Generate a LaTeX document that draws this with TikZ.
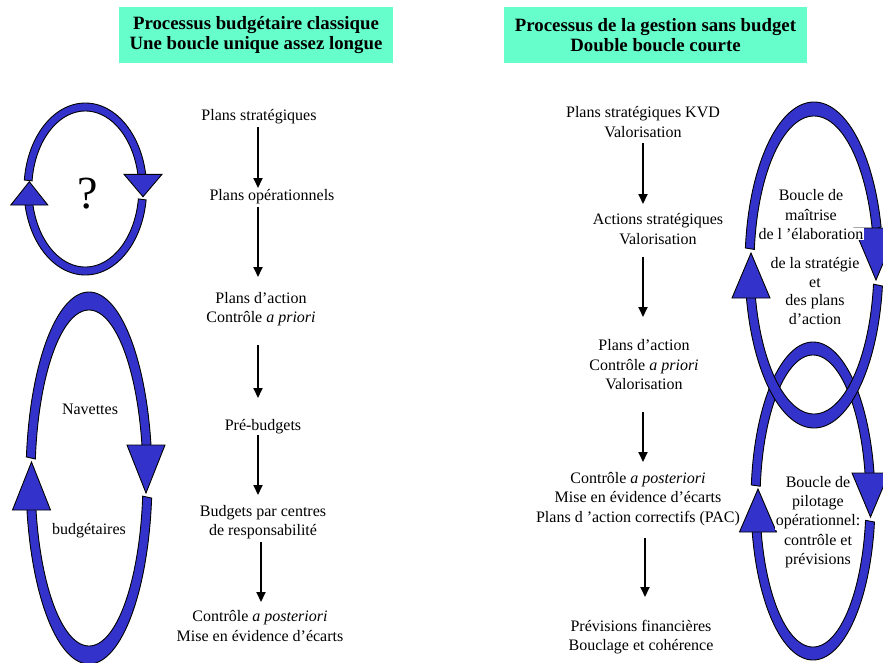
\documentclass[tikz,border=0pt]{standalone}
\usepackage{fontspec}
\setmainfont{Liberation Serif}
\usetikzlibrary{arrows.meta}
\definecolor{bandblue}{RGB}{51,51,204}
\definecolor{titlegreen}{RGB}{102,255,204}
\newcommand\setloop[6]{\def\Lcx{#1}\def\Lcy{#2}\def\Lrxo{#3}\def\Lryo{#4}\def\Lrxi{#5}\def\Lryi{#6}}
\newcommand\bandarc[2]{\filldraw[band] plot[domain=#1:#2,samples=90] ({\Lcx+\Lrxo*cos(\x)},{\Lcy+\Lryo*sin(\x)}) -- plot[domain=#2:#1,samples=90] ({\Lcx+\Lrxi*cos(\x)},{\Lcy+\Lryi*sin(\x)}) -- cycle;}
\newcommand\bandtip[4]{\filldraw[band] ({#1-#4},#2) -- ({#1+#4},#2) -- (#1,#3) -- cycle;}
\newcommand\wbox[1]{{\setlength{\fboxsep}{0.5pt}\colorbox{white}{#1}}}
\begin{document}
\begin{tikzpicture}[x=1pt,y=-1pt,
  band/.style={fill=bandblue,draw=black,line width=0.9pt,line join=miter},
  txt/.style={align=center,inner sep=0pt,font=\fontsize{16}{19.5}\selectfont},
  looptxt/.style={align=center,inner sep=0.5pt,font=\fontsize{16}{19.3}\selectfont},
  titlebox/.style={fill=titlegreen,align=center,inner sep=0pt,minimum width=#1,minimum height=56pt,font=\bfseries\fontsize{18.8}{20}\selectfont},
  arr/.style={line width=1.8pt,-{Triangle[width=9pt,length=10pt]}}]
\useasboundingbox (0,0) rectangle (883,662);
% titles
\node[titlebox=274pt] (t1) at (256,35) {Processus budgétaire classique\\Une boucle unique assez longue};
\node[titlebox=303pt] (t2) at (655.5,35) {Processus de la gestion sans budget\\Double boucle courte};
% left column
\node[txt] (n1) at (259,117) {Plans stratégiques};
\node[txt] (n2) at (272,197) {Plans opérationnels};
\node[txt] (n3) at (261,309) {Plans d’action\\Contrôle \textit{a priori}};
\node[txt] (n4) at (263,427) {Pré-budgets};
\node[txt] (n5) at (263,522) {Budgets par centres\\de responsabilité};
\node[txt] (n6) at (260,626) {Contrôle \textit{a posteriori}\\Mise en évidence d’écarts};
\coordinate (a1s) at (258,127); \coordinate (a1e) at (258,188);
\coordinate (a2s) at (258,207); \coordinate (a2e) at (258,277);
\coordinate (a3s) at (258,345); \coordinate (a3e) at (258,398);
\coordinate (a4s) at (258,435); \coordinate (a4e) at (258,495);
\coordinate (a5s) at (261,542); \coordinate (a5e) at (261,602);
\draw[arr] (a1s) -- (a1e);
\draw[arr] (a2s) -- (a2e);
\draw[arr] (a3s) -- (a3e);
\draw[arr] (a4s) -- (a4e);
\draw[arr] (a5s) -- (a5e);
% right column
\node[txt] (m1) at (643,122) {Plans stratégiques KVD\\Valorisation};
\node[txt] (m2) at (658,229) {Actions stratégiques\\Valorisation};
\node[txt] (m3) at (644,365) {Plans d’action\\Contrôle \textit{a priori}\\Valorisation};
\node[txt] (m4) at (638,499) {Contrôle \textit{a posteriori}\\Mise en évidence d’écarts\\Plans d ’action correctifs (PAC)};
\node[txt] (m5) at (641,637) {Prévisions financières\\Bouclage et cohérence};
\coordinate (b1s) at (643,143); \coordinate (b1e) at (643,204);
\coordinate (b2s) at (643,257); \coordinate (b2e) at (643,317);
\coordinate (b3s) at (643,412); \coordinate (b3e) at (643,462);
\coordinate (b4s) at (645,538); \coordinate (b4e) at (645,597);
\draw[arr] (b1s) -- (b1e);
\draw[arr] (b2s) -- (b2e);
\draw[arr] (b3s) -- (b3e);
\draw[arr] (b4s) -- (b4e);
% small left loop
\setloop{85.3}{189}{61.3}{86}{53.5}{78}
\bandarc{186}{350}
\bandarc{7.3}{169.3}
\bandtip{143}{174.3}{196.7}{19}
\bandtip{29.3}{205}{181.7}{18.5}
% big left loop
\setloop{89}{478}{63}{186}{54}{168}
\bandarc{186.5}{349.8}
\bandarc{6.2}{170.1}
\bandtip{146}{445}{493}{19}
\bandtip{31.5}{510}{462}{19}
% lower right loop
\setloop{813}{501}{62}{159}{53}{146}
\bandarc{185.8}{349.9}
\bandarc{7.6}{168.8}
\bandtip{870.5}{473}{517}{18.5}
\bandtip{758}{532}{489}{18.5}
% upper right loop
\setloop{814}{265}{69}{163}{60}{149}
\bandarc{186}{346.5}
\bandarc{7.4}{168.7}
\bandtip{876}{228}{280}{22}
\bandtip{751}{298}{253}{19}
% loop texts
\node[inner sep=0pt,font=\fontsize{46}{46}\selectfont] (q) at (88,194) {?};
\node[looptxt] (l1) at (90,409) {Navettes};
\node[looptxt] (l2) at (89,531) {budgétaires};
\node[looptxt] (r1) at (811,215) {Boucle de\\maîtrise\\\wbox{de l ’élaboration}};
\node[looptxt,font=\fontsize{16}{18.7}\selectfont] (r2) at (815,291) {de la stratégie\\et\\des plans\\d’action};
\node[looptxt] (r3) at (818,522) {Boucle de\\pilotage\\\wbox{opérationnel:}\\contrôle et\\prévisions};
\end{tikzpicture}
\end{document}
